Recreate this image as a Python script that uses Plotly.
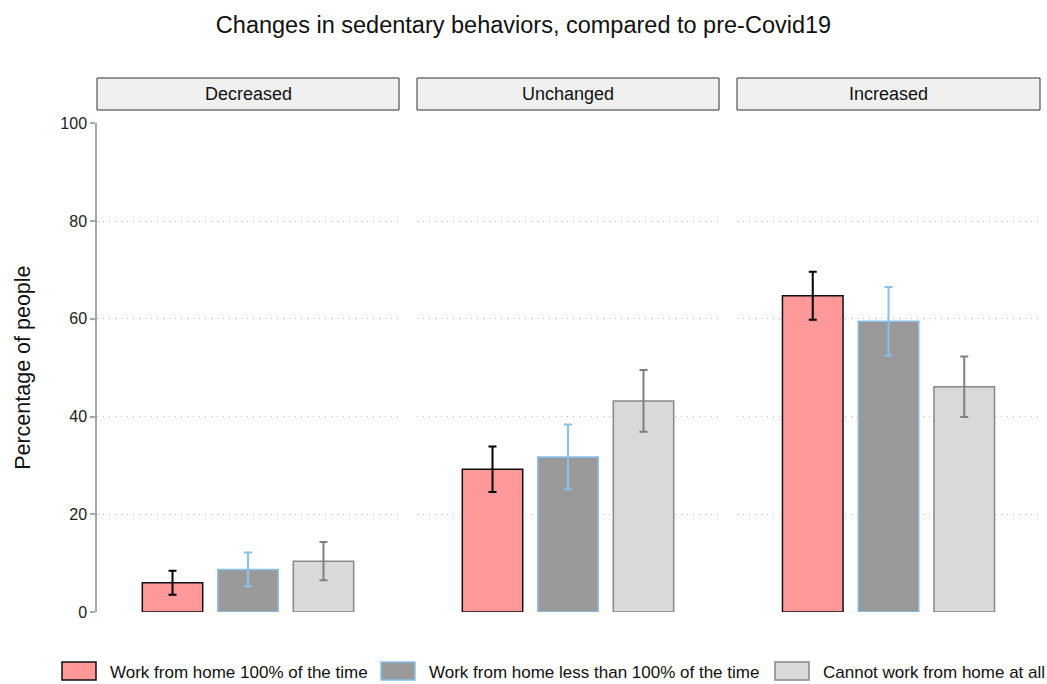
import plotly.graph_objects as go

# Panels (change in sedentary behaviour) and groups (work situation)
panels = ["Decreased", "Unchanged", "Increased"]
groups = [
    "Work from home 100% of the time",
    "Work from home less than 100% of the time",
    "Cannot work from home at all",
]

# Percentage of people per group, one list per panel
pct_decreased = [6.0, 8.7, 10.4]
pct_unchanged = [29.2, 31.7, 43.2]
pct_increased = [64.7, 59.5, 46.1]

# Half-widths of the 95% confidence intervals
ci_decreased = [2.45, 3.5, 3.9]
ci_unchanged = [4.65, 6.65, 6.3]
ci_increased = [4.9, 7.0, 6.2]

y_ticks = [0, 20, 40, 60, 80, 100]

values = [pct_decreased, pct_unchanged, pct_increased]
errors = [ci_decreased, ci_unchanged, ci_increased]

fills = ["#ff9999", "#999999", "#d9d9d9"]
edges = ["#111111", "#86c2ea", "#888888"]
err_colors = ["#000000", "#86c2ea", "#808080"]

W, H = 1047, 684
FONT = "Liberation Sans, Arial, sans-serif"


def px_x(p):
    return p / W


def px_y(p):
    return 1 - p / H


panel_px = [(97, 399), (417, 719), (737, 1040)]
y_dom = [px_y(612), px_y(123.3)]

fig = go.Figure()

for pi, panel in enumerate(panels):
    xa = "x" if pi == 0 else f"x{pi + 1}"
    ya = "y" if pi == 0 else f"y{pi + 1}"
    for gi, grp in enumerate(groups):
        fig.add_trace(go.Bar(
            x=[gi + 1],
            y=[values[pi][gi]],
            width=0.8,
            name=grp,
            showlegend=False,
            marker=dict(color=fills[gi], line=dict(color=edges[gi], width=1.5)),
            error_y=dict(type="data", array=[errors[pi][gi]], visible=True,
                         color=err_colors[gi], thickness=2, width=4),
            xaxis=xa, yaxis=ya,
        ))

layout = dict(
    width=W, height=H,
    margin=dict(l=0, r=0, t=0, b=0, pad=0, autoexpand=False),
    paper_bgcolor="white", plot_bgcolor="white",
    font=dict(family=FONT, color="#222222", size=16),
    showlegend=False,
    barmode="overlay",
    title=dict(text="Changes in sedentary behaviors, compared to pre-Covid19",
               x=0.5, xanchor="center", y=px_y(25), yanchor="middle",
               font=dict(family=FONT, size=23.5, color="#111111")),
)

for pi in range(3):
    sfx = "" if pi == 0 else str(pi + 1)
    x0, x1 = panel_px[pi]
    layout[f"xaxis{sfx}"] = dict(
        domain=[px_x(x0), px_x(x1)], range=[0, 4],
        showticklabels=False, showgrid=False, zeroline=False, showline=False,
        ticks="", anchor=f"y{sfx}" if sfx else "y",
    )
    ycfg = dict(
        domain=y_dom, range=[0, 100], tickvals=y_ticks,
        showgrid=True, gridcolor="#bdbdbd", griddash="1px,5px", gridwidth=1,
        zeroline=False, anchor=f"x{sfx}" if sfx else "x",
    )
    if pi == 0:
        ycfg.update(showline=True, linecolor="#a8a8a8", linewidth=1.5,
                    ticks="outside", ticklen=5, tickcolor="#a8a8a8", tickwidth=1.5,
                    tickfont=dict(size=16, color="#222222"),
                    title=dict(text="Percentage of people",
                               font=dict(size=21.5, color="#111111"), standoff=24))
    else:
        ycfg.update(showline=False, showticklabels=False, ticks="",
                    matches="y")
    layout[f"yaxis{sfx}"] = ycfg

fig.update_layout(**layout)

# Facet strips
for pi, panel in enumerate(panels):
    x0, x1 = panel_px[pi]
    fig.add_shape(type="rect", xref="paper", yref="paper",
                  x0=px_x(x0), x1=px_x(x1), y0=px_y(110), y1=px_y(78),
                  fillcolor="#f0f0f0", line=dict(color="#333333", width=1))
    fig.add_annotation(text=panel, xref="paper", yref="paper",
                       x=(px_x(x0) + px_x(x1)) / 2, y=px_y(94),
                       xanchor="center", yanchor="middle", showarrow=False,
                       font=dict(family=FONT, size=18, color="#111111"))

# Legend drawn as swatches with labels along the bottom
legend_boxes = [(62, 96), (381, 415), (775, 809)]
for gi, grp in enumerate(groups):
    bx0, bx1 = legend_boxes[gi]
    fig.add_shape(type="rect", xref="paper", yref="paper",
                  x0=px_x(bx0), x1=px_x(bx1), y0=px_y(680), y1=px_y(662),
                  fillcolor=fills[gi], line=dict(color=edges[gi], width=1.5))
    fig.add_annotation(text=grp, xref="paper", yref="paper",
                       x=px_x(bx1 + 12), y=px_y(672),
                       xanchor="left", yanchor="middle", showarrow=False,
                       font=dict(family=FONT, size=17, color="#111111"))

fig.write_html("out.html")
